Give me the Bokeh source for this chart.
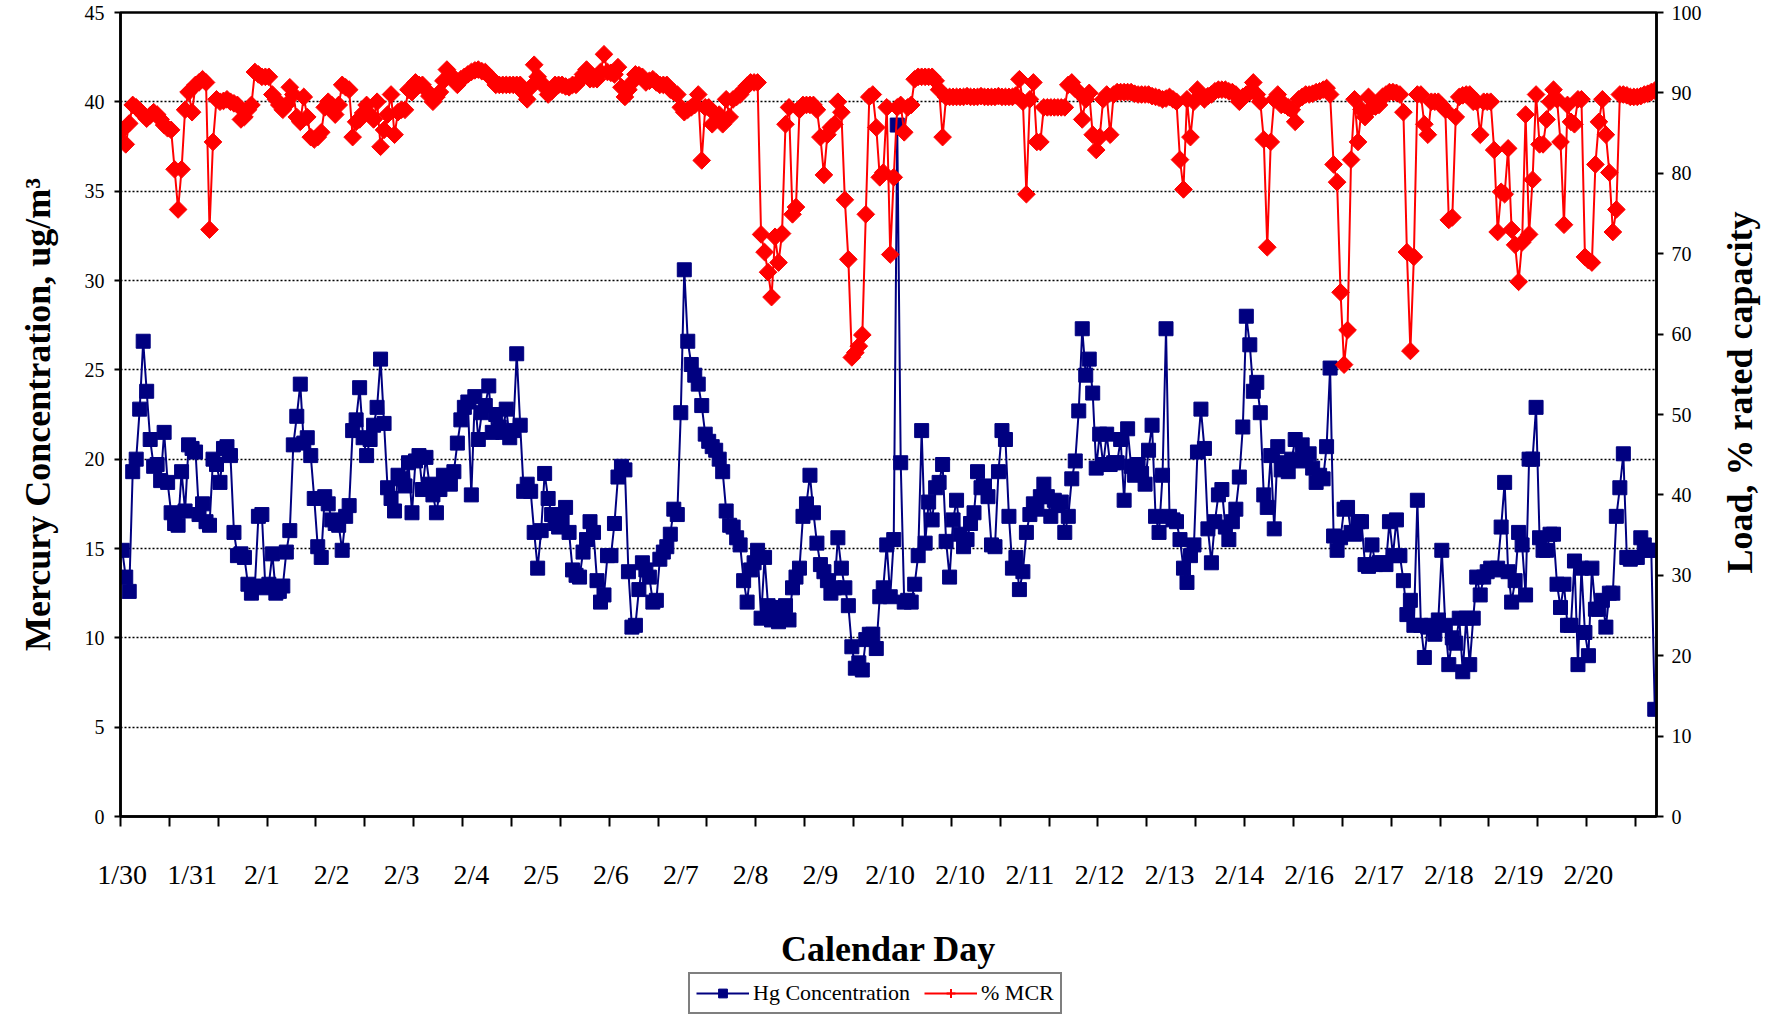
import numpy as np
from bokeh.plotting import figure
from bokeh.layouts import column, row
from bokeh.models import Range1d, LinearAxis, FixedTicker, Legend, LegendItem, ColumnDataSource, Label
from bokeh.embed import file_html
from bokeh.resources import INLINE

# ---------------- data ----------------
day_labels = ["1/30", "1/31", "2/1", "2/2", "2/3", "2/4", "2/5", "2/6", "2/7", "2/8", "2/9",
              "2/10", "2/10", "2/11", "2/12", "2/13", "2/14", "2/16", "2/17", "2/18", "2/19", "2/20"]

hg_conc = [
    14.9, 13.4, 12.6, 19.3, 20.0, 22.8, 26.6, 23.8, 21.1, 19.6, 19.7, 18.8, 21.5, 18.7, 17.0, 16.4, 16.3, 19.3, 17.1, 20.8,
    20.6, 20.4, 16.9, 17.5, 16.5, 16.3, 20.0, 19.7, 18.7, 20.6, 20.7, 20.2, 15.9, 14.6, 14.7, 14.5, 13.0, 12.5, 12.9, 16.8,
    16.9, 12.8, 13.0, 14.7, 12.5, 12.6, 12.9, 14.8, 16.0, 20.8, 22.4, 24.2, 20.9, 21.2, 20.2, 17.8, 15.1, 14.5, 17.9, 17.5,
    16.6, 16.4, 16.3, 14.9, 16.8, 17.4, 21.6, 22.2, 24.0, 21.2, 20.2, 21.1, 21.9, 22.9, 25.6, 22.0, 18.4, 17.8, 17.1, 19.1,
    18.9, 18.5, 19.8, 17.0, 19.9, 20.2, 18.3, 20.1, 18.6, 18.0, 17.0, 18.3, 19.1, 18.8, 18.6, 19.3, 20.9, 22.2, 22.9, 23.2,
    18.0, 23.5, 21.1, 22.6, 23.0, 24.1, 21.5, 22.5, 21.8, 21.5, 22.8, 21.2, 21.6, 25.9, 21.9, 18.2, 18.6, 18.2, 15.9, 13.9,
    16.0, 19.2, 17.8, 16.9, 16.4, 16.2, 16.6, 17.3, 15.9, 13.8, 13.5, 13.4, 14.8, 15.5, 16.5, 15.9, 13.2, 12.0, 12.4, 14.6,
    14.6, 16.4, 19.0, 19.6, 19.4, 13.7, 10.6, 10.7, 12.7, 14.2, 13.8, 13.4, 12.0, 12.1, 14.4, 14.8, 15.1, 15.8, 17.2, 16.9,
    22.6, 30.6, 26.6, 25.3, 24.7, 24.2, 23.0, 21.4, 21.0, 20.7, 20.5, 20.0, 19.3, 17.1, 16.3, 16.2, 15.6, 15.2, 13.2, 12.0,
    13.8, 14.2, 14.9, 11.1, 14.5, 11.8, 11.0, 11.2, 10.9, 11.7, 11.8, 11.0, 12.8, 13.4, 13.9, 16.8, 17.5, 19.1, 17.0, 15.3,
    14.1, 13.7, 13.2, 12.5, 12.8, 15.6, 13.9, 12.8, 11.8, 9.5, 8.3, 8.6, 8.2, 9.9, 10.2, 10.2, 9.4, 12.3, 12.8, 15.2,
    12.3, 15.5, 38.7, 19.8, 12.0, 12.1, 12.0, 13.0, 14.6, 21.6, 15.3, 17.6, 16.6, 18.4, 18.7, 19.7, 15.4, 13.4, 16.6, 17.7,
    15.8, 15.1, 15.5, 16.4, 17.0, 19.3, 18.4, 18.5, 17.9, 15.2, 15.1, 19.3, 21.6, 21.1, 16.8, 13.9, 14.5, 12.7, 13.7, 15.9,
    16.9, 17.5, 17.2, 17.9, 18.6, 17.9, 16.8, 17.7, 17.4, 17.6, 15.9, 16.8, 18.9, 19.9, 22.7, 27.3, 24.7, 25.6, 23.7, 19.5,
    21.4, 19.7, 21.4, 19.7, 19.8, 19.8, 21.1, 17.7, 21.7, 19.6, 19.1, 19.7, 19.2, 18.6, 20.5, 21.9, 16.8, 15.9, 19.1, 27.3,
    16.8, 16.6, 16.5, 15.5, 13.9, 13.1, 14.6, 15.2, 20.4, 22.8, 20.6, 16.1, 14.2, 16.5, 18.0, 18.3, 16.2, 15.5, 16.5, 17.2,
    19.0, 21.8, 28.0, 26.4, 23.8, 24.3, 22.6, 18.0, 17.3, 20.2, 16.1, 20.7, 19.4, 19.8, 19.3, 20.0, 21.1, 19.9, 20.8, 20.1,
    20.3, 19.5, 18.7, 19.1, 18.9, 20.7, 25.1, 15.7, 14.9, 15.6, 17.2, 17.3, 15.9, 15.8, 16.5, 16.5, 14.1, 14.0, 15.2, 14.1,
    14.2, 14.2, 14.1, 16.5, 14.6, 16.6, 14.6, 13.2, 11.3, 12.1, 10.7, 17.7, 10.7, 8.9, 10.6, 10.7, 10.2, 11.0, 14.9, 10.7,
    8.5, 10.0, 9.7, 11.1, 8.1, 11.1, 8.5, 11.1, 13.4, 12.4, 13.4, 13.7, 13.9, 13.8, 13.9, 16.2, 18.7, 13.7, 12.0, 13.2,
    15.9, 15.2, 12.4, 20.0, 20.0, 22.9, 15.6, 14.9, 14.9, 15.8, 15.8, 13.0, 11.7, 13.0, 10.7, 10.7, 14.3, 8.5, 13.9, 10.3,
    9.0, 13.9, 11.6, 11.6, 12.1, 10.6, 12.5, 12.5, 16.8, 18.4, 20.3, 14.5, 14.4, 14.5, 14.5, 15.6, 15.2, 14.9, 14.9, 6.0,
]

load_mcr = [
    85.4, 83.6, 86.2, 88.5, 88.2, 87.8, 87.3, 86.8, 87.2, 87.6, 87.3, 86.7, 86.0, 85.6, 85.4, 80.5, 75.5, 80.5, 87.9, 90.1,
    87.6, 91.0, 91.3, 91.7, 91.3, 73.0, 83.9, 89.2, 88.9, 89.0, 89.2, 88.9, 88.7, 88.5, 86.7, 87.0, 87.9, 88.5, 92.6, 92.3,
    92.0, 92.0, 92.0, 89.8, 89.2, 88.5, 87.9, 88.5, 90.7, 89.8, 87.0, 86.4, 89.5, 87.0, 84.5, 84.2, 84.5, 85.1, 88.2, 88.9,
    88.5, 87.3, 88.5, 91.0, 90.7, 90.4, 84.5, 86.4, 86.7, 87.5, 88.5, 87.3, 86.7, 88.9, 83.3, 85.4, 87.3, 89.8, 84.8, 87.6,
    87.9, 87.9, 90.4, 90.1, 91.3, 91.0, 91.0, 90.4, 89.6, 88.9, 89.5, 90.1, 91.5, 92.9, 92.3, 91.6, 91.0, 91.7, 92.0, 92.3,
    92.6, 92.8, 92.9, 92.7, 92.6, 92.1, 91.7, 91.0, 91.0, 91.0, 91.0, 91.0, 91.0, 91.0, 91.0, 90.0, 89.2, 90.7, 93.5, 92.0,
    91.3, 90.7, 89.8, 90.2, 91.0, 91.0, 91.0, 90.8, 90.7, 91.0, 91.0, 91.5, 92.3, 92.9, 91.7, 91.7, 91.7, 92.6, 94.8, 92.6,
    92.5, 92.3, 93.2, 90.7, 89.5, 90.4, 91.3, 92.3, 92.2, 92.0, 91.3, 91.5, 91.7, 91.3, 91.0, 91.0, 91.0, 90.4, 90.1, 89.8,
    88.2, 87.6, 87.9, 88.2, 88.5, 89.8, 81.6, 88.2, 88.2, 86.1, 87.3, 87.3, 86.1, 89.2, 87.0, 89.2, 89.5, 89.8, 90.4, 90.9,
    91.3, 91.3, 91.3, 72.4, 70.2, 67.7, 64.6, 72.1, 68.9, 72.5, 86.1, 88.2, 74.9, 75.8, 87.9, 88.5, 88.5, 88.5, 88.5, 87.9,
    84.5, 79.8, 84.8, 85.7, 86.1, 88.9, 87.6, 76.7, 69.3, 57.1, 57.7, 58.5, 59.9, 74.9, 89.5, 89.8, 85.7, 79.5, 80.1, 88.2,
    69.9, 79.5, 88.2, 88.5, 85.1, 88.2, 88.5, 91.7, 92.0, 92.0, 92.0, 92.0, 92.0, 91.5, 90.4, 84.5, 89.5, 89.5, 89.5, 89.5,
    89.5, 89.5, 89.6, 89.5, 89.5, 89.5, 89.6, 89.5, 89.5, 89.5, 89.5, 89.6, 89.5, 89.5, 89.5, 89.5, 89.7, 91.7, 88.9, 77.4,
    89.2, 91.3, 83.9, 83.9, 88.2, 88.2, 88.2, 88.2, 88.2, 88.2, 88.2, 91.0, 91.3, 90.5, 90.1, 86.7, 89.2, 90.0, 84.8, 82.9,
    84.5, 89.2, 89.8, 84.8, 89.8, 90.1, 90.1, 90.1, 90.1, 90.1, 89.9, 89.8, 89.8, 89.8, 89.8, 89.6, 89.5, 89.4, 89.2, 89.3,
    89.5, 89.2, 88.9, 81.7, 78.0, 89.2, 84.5, 88.9, 90.4, 89.7, 89.2, 89.6, 89.8, 90.2, 90.4, 90.4, 90.4, 90.2, 90.1, 89.8,
    88.9, 89.5, 89.8, 90.1, 91.3, 89.8, 88.9, 84.2, 70.8, 83.9, 89.2, 89.8, 88.5, 88.5, 88.2, 87.9, 86.4, 89.2, 89.5, 89.8,
    89.8, 89.9, 90.1, 90.2, 90.4, 90.6, 89.8, 81.1, 78.9, 65.2, 56.2, 60.5, 81.7, 89.2, 83.9, 87.9, 87.0, 89.5, 88.2, 88.3,
    88.5, 89.5, 89.8, 90.1, 90.1, 90.0, 89.8, 87.6, 70.2, 57.9, 69.6, 89.8, 89.8, 86.1, 84.8, 88.9, 88.9, 88.9, 88.4, 87.9,
    74.2, 74.5, 87.0, 89.5, 89.7, 89.8, 89.8, 88.9, 88.9, 84.8, 88.9, 88.9, 88.9, 82.9, 72.7, 77.7, 77.4, 83.1, 73.0, 71.1,
    66.5, 71.4, 87.3, 72.4, 79.2, 89.8, 83.6, 83.6, 86.7, 88.9, 90.4, 89.2, 83.9, 73.6, 88.5, 86.4, 86.1, 89.2, 89.2, 69.6,
    69.2, 68.9, 81.1, 86.4, 89.2, 84.8, 80.1, 72.7, 75.5, 89.8, 89.8, 89.7, 89.5, 89.5, 89.5, 89.6, 89.8, 89.9, 90.1, 90.3,
]

# ---------------- layout ----------------
n = len(hg_conc)
label_every = 20
tick_every = 14
FONT = "Liberation Serif"
NAVY = "#000080"
RED = "#FF0000"

src = ColumnDataSource(dict(x=np.arange(n) + 0.5, hg=hg_conc, load=load_mcr))

p = figure(width=1718, height=971, output_backend="svg", toolbar_location=None,
           x_range=Range1d(0, n), y_range=Range1d(0, 45),
           min_border_left=120, min_border_right=62, min_border_top=12, min_border_bottom=152,
           background_fill_color="white", border_fill_color="white")
p.extra_y_ranges = {"load": Range1d(0, 100)}

p.outline_line_color = "black"
p.outline_line_width = 2.5
p.xgrid.visible = False
p.ygrid.grid_line_color = "black"
p.ygrid.grid_line_dash = "2 2"
p.ygrid.grid_line_width = 1.5

# x axis: labels at category centres, tick marks at category boundaries
label_pos = [label_every * k + 0.5 for k in range(len(day_labels))]
tick_pos = list(range(0, n, tick_every))
xa = p.xaxis[0]
xa.ticker = FixedTicker(ticks=label_pos, minor_ticks=tick_pos)
xa.major_label_overrides = {pos: lab for pos, lab in zip(label_pos, day_labels)}
xa.major_tick_line_color = None
xa.major_tick_out = 10
xa.major_tick_in = 0
xa.minor_tick_line_color = "black"
xa.minor_tick_line_width = 2
xa.minor_tick_out = 10
xa.minor_tick_in = 0
xa.axis_line_width = 2.5
xa.axis_line_color = "black"
xa.major_label_text_font = FONT
xa.major_label_text_font_size = "28px"
xa.major_label_text_color = "black"
xa.major_label_standoff = 32
xa.axis_label = "Calendar Day"
xa.axis_label_text_font = FONT
xa.axis_label_text_font_size = "36px"
xa.axis_label_text_font_style = "bold"
xa.axis_label_text_color = "black"
xa.axis_label_standoff = 36

ya = p.yaxis[0]
ya.ticker = FixedTicker(ticks=list(range(0, 46, 5)))
ya.axis_line_width = 2.5
ya.axis_line_color = "black"
ya.major_tick_out = 6
ya.major_tick_in = 0
ya.major_tick_line_width = 2
ya.minor_tick_line_color = None
ya.major_label_text_font = FONT
ya.major_label_text_font_size = "20px"
ya.major_label_text_color = "black"
ya.major_label_standoff = 10
ya.axis_label = "Mercury Concentration, ug/m\u00b3"
ya.axis_label_text_font = FONT
ya.axis_label_text_font_size = "36px"
ya.axis_label_text_font_style = "bold"
ya.axis_label_text_color = "black"
ya.axis_label_standoff = 24

ra = LinearAxis(y_range_name="load", ticker=FixedTicker(ticks=list(range(0, 101, 10))))
ra.axis_line_width = 2.5
ra.axis_line_color = "black"
ra.major_tick_out = 7
ra.major_tick_in = 0
ra.major_tick_line_width = 2
ra.minor_tick_line_color = None
ra.major_label_text_font = FONT
ra.major_label_text_font_size = "20px"
ra.major_label_text_color = "black"
ra.major_label_standoff = 8
p.add_layout(ra, "right")

# ---------------- series ----------------
p.line("x", "hg", source=src, line_color=NAVY, line_width=2)
p.scatter("x", "hg", source=src, marker="square", size=14, fill_color=NAVY, line_color=NAVY)
p.line("x", "load", source=src, y_range_name="load", line_color=RED, line_width=2)
p.scatter("x", "load", source=src, y_range_name="load", marker="cross", size=10,
          line_color=RED, line_width=2)
p.scatter("x", "load", source=src, y_range_name="load", marker="square", angle=np.pi / 4,
          size=12.5, fill_color=RED, line_color=RED)

# ---------------- right-hand axis title (reads bottom to top) ----------------
tf = figure(width=52, height=971, output_backend="svg", toolbar_location=None,
            x_range=Range1d(0, 1), y_range=Range1d(0, 1),
            x_axis_location=None, y_axis_location=None, min_border=0,
            outline_line_color=None, background_fill_color="white", border_fill_color="white")
tf.grid.visible = False
tf.add_layout(Label(x=21, y=424, x_units="screen", y_units="screen", angle=np.pi / 2,
                    text="Load, % rated capacity", text_align="center", text_baseline="middle",
                    text_font=FONT, text_font_size="36px", text_font_style="bold",
                    text_color="black"))

# ---------------- legend strip (below the chart) ----------------
# same series, drawn into a range where no data falls, only to feed the legend
lg = figure(width=1770, height=48, output_backend="svg", toolbar_location=None,
            x_range=Range1d(0, 1), y_range=Range1d(-100, -99),
            min_border=0, outline_line_color=None,
            background_fill_color="white", border_fill_color="white")
lg.axis.visible = False
lg.grid.visible = False
lg_hl = lg.line("x", "hg", source=src, line_color=NAVY, line_width=2)
lg_hs = lg.scatter("x", "hg", source=src, marker="square", size=10, fill_color=NAVY, line_color=NAVY)
lg_ml = lg.line("x", "load", source=src, line_color=RED, line_width=2)
lg_mp = lg.scatter("x", "load", source=src, marker="cross", size=10, line_color=RED, line_width=2)

legend = Legend(items=[LegendItem(label="Hg Concentration", renderers=[lg_hl, lg_hs]),
                       LegendItem(label="% MCR", renderers=[lg_ml, lg_mp])],
                location=(688, 5), orientation="horizontal",
                border_line_color="black", border_line_width=2,
                background_fill_color="white", background_fill_alpha=1,
                label_text_font=FONT, label_text_font_size="22px", label_text_color="black",
                glyph_width=53, glyph_height=22, label_standoff=4, spacing=14,
                padding=6, margin=0, label_height=22)
lg.add_layout(legend, "center")

layout = column(row(p, tf, spacing=0), lg, spacing=0)
open("out.html", "w").write(file_html(layout, INLINE, title="Mercury concentration and load"))
